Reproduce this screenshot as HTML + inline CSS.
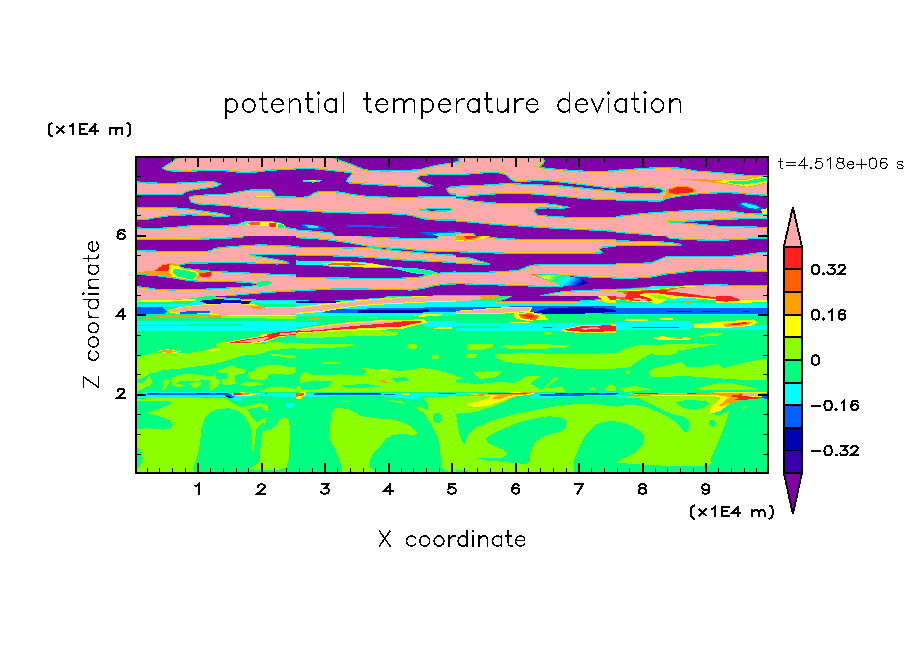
<!DOCTYPE html>
<html><head><meta charset="utf-8"><title>potential temperature deviation</title>
<style>
html,body{margin:0;padding:0;background:#fff;}
body{width:904px;height:654px;position:relative;overflow:hidden;font-family:"Liberation Sans",sans-serif;color:#000;}
svg.main{position:absolute;left:0;top:0;}
</style></head><body>
<svg class="main" width="904" height="654" viewBox="0 0 904 654">
<defs><clipPath id="pc"><rect x="136" y="157" width="632" height="316"/></clipPath></defs>
<g clip-path="url(#pc)" shape-rendering="crispEdges">
<svg x="136" y="156" width="160" height="80" viewBox="0 0 904 452" preserveAspectRatio="none"><rect x="-50" y="-50" width="1004" height="552" fill="#ffaaaa"/><polygon points="-40,-40 235,-40 235,10 200,35 150,68 165,78 200,85 300,86 440,80 520,85 600,93 680,90 760,80 944,72 944,232 790,232 775,205 760,192 650,192 600,200 520,215 400,220 330,225 300,232 310,258 340,270 420,275 520,280 600,290 700,300 800,305 944,308 944,414 850,406 835,390 800,375 700,370 640,368 600,375 570,390 400,392 300,395 200,405 100,410 -40,405 -40,362 50,360 100,350 200,336 300,332 400,336 480,342 530,340 480,325 400,315 300,300 200,292 100,290 -40,295 -40,218 200,218 262,216 285,200 330,190 400,180 455,172 478,158 440,145 330,148 200,155 60,152 -40,140" fill="#8000a8" stroke="#ffc800" stroke-width="15" paint-order="stroke" stroke-linejoin="round"/><polygon points="-40,-40 235,-40 235,10 200,35 150,68 165,78 200,85 300,86 440,80 520,85 600,93 680,90 760,80 944,72 944,232 790,232 775,205 760,192 650,192 600,200 520,215 400,220 330,225 300,232 310,258 340,270 420,275 520,280 600,290 700,300 800,305 944,308 944,414 850,406 835,390 800,375 700,370 640,368 600,375 570,390 400,392 300,395 200,405 100,410 -40,405 -40,362 50,360 100,350 200,336 300,332 400,336 480,342 530,340 480,325 400,315 300,300 200,292 100,290 -40,295 -40,218 200,218 262,216 285,200 330,190 400,180 455,172 478,158 440,145 330,148 200,155 60,152 -40,140" fill="#8000a8" stroke="#00e0e0" stroke-width="7" stroke-linejoin="round"/><polygon points="585,392 610,372 650,366 700,372 640,392" fill="#00ffff" /><polygon points="610,385 650,370 760,372 840,385 800,408 740,395 640,392" fill="#ffff00" /><polygon points="630,380 660,372 700,374 700,388 650,390" fill="#ff6000" /><polygon points="750,378 790,380 790,402 755,398" fill="#ff2020" /><polygon points="800,385 840,388 830,410 800,405" fill="#00ff80" /><polygon points="665,232 800,230 800,237 665,239" fill="#00ffff" /><polygon points="680,226 750,224 760,230 680,232" fill="#ffff00" /></svg>
<svg x="296" y="156" width="160" height="80" viewBox="0 0 904 452" preserveAspectRatio="none"><rect x="-50" y="-50" width="1004" height="552" fill="#ffaaaa"/><polygon points="210,-40 210,10 260,30 320,50 380,75 420,82 500,85 600,82 700,78 760,60 820,48 880,40 944,20 944,-40" fill="#8000a8" stroke="#ffc800" stroke-width="15" paint-order="stroke" stroke-linejoin="round"/><polygon points="210,-40 210,10 260,30 320,50 380,75 420,82 500,85 600,82 700,78 760,60 820,48 880,40 944,20 944,-40" fill="#8000a8" stroke="#00e0e0" stroke-width="7" stroke-linejoin="round"/><polygon points="-40,72 100,72 200,82 290,92 320,97 300,120 285,140 300,152 400,160 520,166 620,172 700,172 770,168 720,150 685,128 700,112 760,105 944,105 944,175 870,175 850,185 860,205 880,215 944,215 944,228 800,228 700,232 600,235 500,232 400,228 320,218 250,205 200,200 130,200 100,210 80,225 60,232 -40,235" fill="#8000a8" stroke="#ffc800" stroke-width="15" paint-order="stroke" stroke-linejoin="round"/><polygon points="-40,72 100,72 200,82 290,92 320,97 300,120 285,140 300,152 400,160 520,166 620,172 700,172 770,168 720,150 685,128 700,112 760,105 944,105 944,175 870,175 850,185 860,205 880,215 944,215 944,228 800,228 700,232 600,235 500,232 400,228 320,218 250,205 200,200 130,200 100,210 80,225 60,232 -40,235" fill="#8000a8" stroke="#00e0e0" stroke-width="7" stroke-linejoin="round"/><polygon points="-40,305 100,312 200,320 350,322 500,325 600,330 650,335 680,345 720,355 800,362 944,362 944,492 260,492 200,435 100,425 -40,415" fill="#8000a8" stroke="#ffc800" stroke-width="15" paint-order="stroke" stroke-linejoin="round"/><polygon points="-40,305 100,312 200,320 350,322 500,325 600,330 650,335 680,345 720,355 800,362 944,362 944,492 260,492 200,435 100,425 -40,415" fill="#8000a8" stroke="#00e0e0" stroke-width="7" stroke-linejoin="round"/><polygon points="700,305 760,296 860,296 880,302 860,310 760,312" fill="#8000a8" stroke="#ffc800" stroke-width="15" paint-order="stroke" stroke-linejoin="round"/><polygon points="700,305 760,296 860,296 880,302 860,310 760,312" fill="#8000a8" stroke="#00e0e0" stroke-width="7" stroke-linejoin="round"/><polygon points="20,388 60,385 140,395 170,410 120,418 40,405" fill="#0060ff" /><polygon points="50,392 90,390 130,400 120,410 70,405" fill="#00ffff" /><polygon points="280,392 400,390 580,405 500,408 380,400 300,400" fill="#0060ff" /><polygon points="40,138 100,133 160,140 100,150 40,148" fill="#00ffff" /><polygon points="70,139 100,137 130,141 100,145" fill="#ffff00" /><polygon points="700,432 904,425 904,452 760,452" fill="#0060ff" /><polygon points="760,440 904,432 904,452 800,452" fill="#00ffff" /><polygon points="820,446 904,440 904,452 840,452" fill="#00ff80" /></svg>
<svg x="456" y="156" width="160" height="80" viewBox="0 0 904 452" preserveAspectRatio="none"><rect x="-50" y="-50" width="1004" height="552" fill="#ffaaaa"/><polygon points="490,-40 490,10 500,30 480,55 470,65 520,70 600,78 700,85 800,88 944,82 944,-40" fill="#8000a8" stroke="#ffc800" stroke-width="15" paint-order="stroke" stroke-linejoin="round"/><polygon points="490,-40 490,10 500,30 480,55 470,65 520,70 600,78 700,85 800,88 944,82 944,-40" fill="#8000a8" stroke="#00e0e0" stroke-width="7" stroke-linejoin="round"/><polygon points="-40,-40 12,-40 18,30 -40,45" fill="#8000a8" stroke="#ffc800" stroke-width="15" paint-order="stroke" stroke-linejoin="round"/><polygon points="-40,-40 12,-40 18,30 -40,45" fill="#8000a8" stroke="#00e0e0" stroke-width="7" stroke-linejoin="round"/><polygon points="-40,108 100,100 180,93 240,95 280,105 310,130 340,145 400,142 460,138 520,140 600,148 700,160 800,172 860,180 944,185 944,200 860,195 800,190 700,180 600,170 500,165 400,160 340,158 300,155 200,162 100,168 -40,172" fill="#8000a8" stroke="#ffc800" stroke-width="15" paint-order="stroke" stroke-linejoin="round"/><polygon points="-40,108 100,100 180,93 240,95 280,105 310,130 340,145 400,142 460,138 520,140 600,148 700,160 800,172 860,180 944,185 944,200 860,195 800,190 700,180 600,170 500,165 400,160 340,158 300,155 200,162 100,168 -40,172" fill="#8000a8" stroke="#00e0e0" stroke-width="7" stroke-linejoin="round"/><polygon points="-40,222 30,230 100,222 200,215 300,210 400,212 500,220 600,228 700,238 800,245 944,248 944,345 800,348 700,348 600,345 520,340 460,335 440,310 450,295 520,293 600,295 640,290 600,283 560,275 500,270 400,268 300,270 200,265 100,255 30,242 -40,240" fill="#8000a8" stroke="#ffc800" stroke-width="15" paint-order="stroke" stroke-linejoin="round"/><polygon points="-40,222 30,230 100,222 200,215 300,210 400,212 500,220 600,228 700,238 800,245 944,248 944,345 800,348 700,348 600,345 520,340 460,335 440,310 450,295 520,293 600,295 640,290 600,283 560,275 500,270 400,268 300,270 200,265 100,255 30,242 -40,240" fill="#8000a8" stroke="#00e0e0" stroke-width="7" stroke-linejoin="round"/><polygon points="-40,365 100,375 200,385 300,392 400,398 500,405 600,410 700,415 800,420 944,428 944,492 150,492 100,440 -40,432" fill="#8000a8" stroke="#ffc800" stroke-width="15" paint-order="stroke" stroke-linejoin="round"/><polygon points="-40,365 100,375 200,385 300,392 400,398 500,405 600,410 700,415 800,420 944,428 944,492 150,492 100,440 -40,432" fill="#8000a8" stroke="#00e0e0" stroke-width="7" stroke-linejoin="round"/></svg>
<svg x="616" y="156" width="160" height="80" viewBox="0 0 904 452" preserveAspectRatio="none"><rect x="-50" y="-50" width="1004" height="552" fill="#ffaaaa"/><polygon points="-40,-40 944,-40 944,115 800,112 740,110 650,100 550,92 450,85 400,75 350,68 250,66 150,70 60,78 -40,82" fill="#8000a8" stroke="#ffc800" stroke-width="15" paint-order="stroke" stroke-linejoin="round"/><polygon points="-40,-40 944,-40 944,115 800,112 740,110 650,100 550,92 450,85 400,75 350,68 250,66 150,70 60,78 -40,82" fill="#8000a8" stroke="#00e0e0" stroke-width="7" stroke-linejoin="round"/><polygon points="-40,180 100,173 200,178 250,185 275,198 250,210 150,212 60,210 -40,205" fill="#8000a8" stroke="#ffc800" stroke-width="15" paint-order="stroke" stroke-linejoin="round"/><polygon points="-40,180 100,173 200,178 250,185 275,198 250,210 150,212 60,210 -40,205" fill="#8000a8" stroke="#00e0e0" stroke-width="7" stroke-linejoin="round"/><polygon points="-40,250 100,252 250,255 290,240 350,228 450,215 520,210 620,207 700,210 760,218 944,225 944,330 800,328 740,325 650,312 550,305 450,305 350,312 250,318 150,325 80,335 -40,345" fill="#8000a8" stroke="#ffc800" stroke-width="15" paint-order="stroke" stroke-linejoin="round"/><polygon points="-40,250 100,252 250,255 290,240 350,228 450,215 520,210 620,207 700,210 760,218 944,225 944,330 800,328 740,325 650,312 550,305 450,305 350,312 250,318 150,325 80,335 -40,345" fill="#8000a8" stroke="#00e0e0" stroke-width="7" stroke-linejoin="round"/><polygon points="290,371 400,368 500,365 560,360 700,355 944,355 944,405 800,402 700,400 600,400 500,388 400,380" fill="#8000a8" stroke="#ffc800" stroke-width="15" paint-order="stroke" stroke-linejoin="round"/><polygon points="290,371 400,368 500,365 560,360 700,355 944,355 944,405 800,402 700,400 600,400 500,388 400,380" fill="#8000a8" stroke="#00e0e0" stroke-width="7" stroke-linejoin="round"/><polygon points="-40,428 100,438 200,445 260,492 -40,492" fill="#8000a8" stroke="#ffc800" stroke-width="15" paint-order="stroke" stroke-linejoin="round"/><polygon points="-40,428 100,438 200,445 260,492 -40,492" fill="#8000a8" stroke="#00e0e0" stroke-width="7" stroke-linejoin="round"/><polygon points="820,492 840,445 944,445 944,492" fill="#8000a8" stroke="#ffc800" stroke-width="15" paint-order="stroke" stroke-linejoin="round"/><polygon points="820,492 840,445 944,445 944,492" fill="#8000a8" stroke="#00e0e0" stroke-width="7" stroke-linejoin="round"/><polygon points="335,130 450,130 600,136 740,130 770,118 860,118 860,150 790,168 740,178 650,162 560,152 450,140" fill="#ffa000" /><polygon points="540,140 740,135 775,122 860,120 860,148 790,164 740,174 650,158" fill="#ffff00" /><polygon points="600,145 740,142 790,128 860,125 860,140 780,152 720,162 650,154" fill="#00ff80" /><polygon points="280,190 340,172 400,168 445,188 460,202 400,216 330,220 285,235 260,245 285,212" fill="#ffa000" /><polygon points="300,190 340,178 400,174 435,190 440,200 400,210 330,213 300,208" fill="#ff2020" /><polygon points="688,270 720,258 780,270 835,295 805,310 740,300 700,286" fill="#0060ff" /><polygon points="705,270 725,265 780,278 810,292 790,298 740,290" fill="#00ffff" /><polygon points="820,300 860,295 860,330 825,325" fill="#ffff00" /></svg>
<svg x="136" y="236" width="160" height="80" viewBox="0 0 904 452" preserveAspectRatio="none"><rect x="-50" y="-50" width="1004" height="552" fill="#ffaaaa"/><polygon points="-40,18 300,20 450,15 600,8 650,-40 944,-40 944,60 800,54 700,50 600,56 520,62 480,65 440,72 420,85 350,88 200,88 100,85 -40,82" fill="#8000a8" stroke="#ffc800" stroke-width="15" paint-order="stroke" stroke-linejoin="round"/><polygon points="-40,18 300,20 450,15 600,8 650,-40 944,-40 944,60 800,54 700,50 600,56 520,62 480,65 440,72 420,85 350,88 200,88 100,85 -40,82" fill="#8000a8" stroke="#00e0e0" stroke-width="7" stroke-linejoin="round"/><polygon points="640,105 750,103 944,103 944,222 800,218 700,212 600,208 430,200 330,190 260,180 240,165 300,153 400,152 560,150 700,154 800,158 862,152 830,140 750,126 680,114" fill="#8000a8" stroke="#ffc800" stroke-width="15" paint-order="stroke" stroke-linejoin="round"/><polygon points="640,105 750,103 944,103 944,222 800,218 700,212 600,208 430,200 330,190 260,180 240,165 300,153 400,152 560,150 700,154 800,158 862,152 830,140 750,126 680,114" fill="#8000a8" stroke="#00e0e0" stroke-width="7" stroke-linejoin="round"/><polygon points="-40,215 100,222 200,235 300,252 400,258 500,258 600,260 680,268 700,272 650,285 550,292 450,298 350,302 200,305 120,302 60,292 -40,282" fill="#8000a8" stroke="#ffc800" stroke-width="15" paint-order="stroke" stroke-linejoin="round"/><polygon points="-40,215 100,222 200,235 300,252 400,258 500,258 600,260 680,268 700,272 650,285 550,292 450,298 350,302 200,305 120,302 60,292 -40,282" fill="#8000a8" stroke="#00e0e0" stroke-width="7" stroke-linejoin="round"/><polygon points="944,308 800,315 700,322 600,330 500,340 400,350 330,358 280,368 400,372 500,378 600,380 750,378 944,375" fill="#8000a8" stroke="#ffc800" stroke-width="15" paint-order="stroke" stroke-linejoin="round"/><polygon points="944,308 800,315 700,322 600,330 500,340 400,350 330,358 280,368 400,372 500,378 600,380 750,378 944,375" fill="#8000a8" stroke="#00e0e0" stroke-width="7" stroke-linejoin="round"/><polygon points="100,195 150,160 200,150 240,165 260,182 330,192 430,202 420,235 350,240 300,250 200,232 100,220 0,212 0,205" fill="#ffa000" /><polygon points="110,195 150,165 185,160 200,185 170,200" fill="#ff2020" /><polygon points="190,165 240,170 262,186 330,196 360,210 340,240 300,248 205,230 185,200" fill="#ffff00" /><polygon points="215,185 250,190 330,205 345,225 330,240 300,244 230,228 205,205" fill="#00ff80" /><polygon points="350,208 425,205 425,228 370,232" fill="#ff2020" /><polygon points="690,258 750,255 775,265 740,280 690,288" fill="#00ff80" /></svg>
<svg x="296" y="236" width="160" height="80" viewBox="0 0 904 452" preserveAspectRatio="none"><rect x="-50" y="-50" width="1004" height="552" fill="#ffaaaa"/><polygon points="-40,8 100,14 200,24 300,38 400,56 440,64 300,68 200,66 100,64 -40,62" fill="#8000a8" stroke="#ffc800" stroke-width="15" paint-order="stroke" stroke-linejoin="round"/><polygon points="-40,8 100,14 200,24 300,38 400,56 440,64 300,68 200,66 100,64 -40,62" fill="#8000a8" stroke="#00e0e0" stroke-width="7" stroke-linejoin="round"/><polygon points="300,-40 820,-40 800,12 700,15 500,10 380,4" fill="#8000a8" stroke="#ffc800" stroke-width="15" paint-order="stroke" stroke-linejoin="round"/><polygon points="300,-40 820,-40 800,12 700,15 500,10 380,4" fill="#8000a8" stroke="#00e0e0" stroke-width="7" stroke-linejoin="round"/><polygon points="430,62 600,73 750,86 830,88 944,88 944,110 830,106 750,99 600,86 440,69" fill="#8000a8" stroke="#ffc800" stroke-width="15" paint-order="stroke" stroke-linejoin="round"/><polygon points="430,62 600,73 750,86 830,88 944,88 944,110 830,106 750,99 600,86 440,69" fill="#8000a8" stroke="#00e0e0" stroke-width="7" stroke-linejoin="round"/><polygon points="-40,108 200,112 400,120 600,135 800,145 944,152 944,200 830,208 760,215 700,232 600,238 500,240 300,238 100,236 -40,232" fill="#8000a8" stroke="#ffc800" stroke-width="15" paint-order="stroke" stroke-linejoin="round"/><polygon points="-40,108 200,112 400,120 600,135 800,145 944,152 944,200 830,208 760,215 700,232 600,238 500,240 300,238 100,236 -40,232" fill="#8000a8" stroke="#00e0e0" stroke-width="7" stroke-linejoin="round"/><polygon points="-40,310 100,305 200,300 400,300 550,302 650,305 720,295 780,280 850,272 944,270 944,335 800,338 700,345 600,352 500,358 400,362 300,368 250,375 150,378 -40,375" fill="#8000a8" stroke="#ffc800" stroke-width="15" paint-order="stroke" stroke-linejoin="round"/><polygon points="-40,310 100,305 200,300 400,300 550,302 650,305 720,295 780,280 850,272 944,270 944,335 800,338 700,345 600,352 500,358 400,362 300,368 250,375 150,378 -40,375" fill="#8000a8" stroke="#00e0e0" stroke-width="7" stroke-linejoin="round"/><polygon points="0,138 60,140 130,143 250,140 400,150 540,172 600,178 650,178 750,192 810,210 740,220 650,208 590,192 540,182 450,180 300,176 200,174 120,162 60,165 0,165" fill="#00ffff" /><polygon points="140,155 250,145 350,150 450,160 530,174 450,176 300,172 200,170" fill="#ffff00" /><polygon points="170,158 250,150 340,154 400,162 300,167 200,166" fill="#ff6000" /><polygon points="600,186 650,183 750,197 795,210 740,214 650,203" fill="#00ff80" /></svg>
<svg x="456" y="236" width="160" height="80" viewBox="0 0 904 452" preserveAspectRatio="none"><rect x="-50" y="-50" width="1004" height="552" fill="#ffaaaa"/><polygon points="150,-40 944,-40 944,22 800,20 600,22 400,20 250,15 180,5" fill="#8000a8" stroke="#ffc800" stroke-width="15" paint-order="stroke" stroke-linejoin="round"/><polygon points="150,-40 944,-40 944,22 800,20 600,22 400,20 250,15 180,5" fill="#8000a8" stroke="#00e0e0" stroke-width="7" stroke-linejoin="round"/><polygon points="-40,88 200,95 400,100 600,100 750,98 830,95 810,75 830,62 944,60 944,160 700,162 500,162 430,165 400,175 350,195 280,200 100,208 -40,205 -40,152 100,158 190,158 130,140 80,125 -40,118" fill="#8000a8" stroke="#ffc800" stroke-width="15" paint-order="stroke" stroke-linejoin="round"/><polygon points="-40,88 200,95 400,100 600,100 750,98 830,95 810,75 830,62 944,60 944,160 700,162 500,162 430,165 400,175 350,195 280,200 100,208 -40,205 -40,152 100,158 190,158 130,140 80,125 -40,118" fill="#8000a8" stroke="#00e0e0" stroke-width="7" stroke-linejoin="round"/><polygon points="-40,268 100,272 200,275 350,280 500,285 600,283 560,260 480,235 430,218 620,222 800,235 944,238 944,300 800,305 700,308 600,315 540,325 480,338 600,340 700,345 780,350 830,362 800,370 700,372 500,370 300,368 230,365 300,345 250,340 100,335 -40,335" fill="#8000a8" stroke="#ffc800" stroke-width="15" paint-order="stroke" stroke-linejoin="round"/><polygon points="-40,268 100,272 200,275 350,280 500,285 600,283 560,260 480,235 430,218 620,222 800,235 944,238 944,300 800,305 700,308 600,315 540,325 480,338 600,340 700,345 780,350 830,362 800,370 700,372 500,370 300,368 230,365 300,345 250,340 100,335 -40,335" fill="#8000a8" stroke="#00e0e0" stroke-width="7" stroke-linejoin="round"/><polygon points="0,0 190,0 150,18 60,30 0,28" fill="#ffff00" /><polygon points="0,0 150,0 120,18 60,26 0,24" fill="#ffa000" /><polygon points="40,0 130,0 110,12 60,16" fill="#ff2020" /><defs><linearGradient id="g23" x1="0" x2="1" y1="0" y2="0.25"><stop offset="0" stop-color="#ff6000"/><stop offset="0.3" stop-color="#ffff00"/><stop offset="0.5" stop-color="#00ff80"/><stop offset="0.7" stop-color="#00ffff"/><stop offset="0.88" stop-color="#0060ff"/><stop offset="1" stop-color="#0000b0"/></linearGradient></defs><polygon points="425,216 620,224 700,240 752,265 700,280 600,285 560,262 480,235" fill="url(#g23)"/></svg>
<svg x="616" y="236" width="160" height="80" viewBox="0 0 904 452" preserveAspectRatio="none"><rect x="-50" y="-50" width="1004" height="552" fill="#ffaaaa"/><polygon points="-40,-40 240,-40 300,12 400,20 550,25 700,20 800,12 944,10 944,88 800,95 720,108 620,118 500,115 380,115 280,118 240,135 200,152 100,155 -40,158 -40,55 100,52 300,55 370,50 320,38 200,30 -40,28" fill="#8000a8" stroke="#ffc800" stroke-width="15" paint-order="stroke" stroke-linejoin="round"/><polygon points="-40,-40 240,-40 300,12 400,20 550,25 700,20 800,12 944,10 944,88 800,95 720,108 620,118 500,115 380,115 280,118 240,135 200,152 100,155 -40,158 -40,55 100,52 300,55 370,50 320,38 200,30 -40,28" fill="#8000a8" stroke="#00e0e0" stroke-width="7" stroke-linejoin="round"/><polygon points="-40,240 100,238 200,232 280,215 350,208 450,195 550,192 650,192 750,198 944,205 944,278 750,280 650,278 550,275 450,280 350,285 250,298 150,305 -40,310" fill="#8000a8" stroke="#ffc800" stroke-width="15" paint-order="stroke" stroke-linejoin="round"/><polygon points="-40,240 100,238 200,232 280,215 350,208 450,195 550,192 650,192 750,198 944,205 944,278 750,280 650,278 550,275 450,280 350,285 250,298 150,305 -40,310" fill="#8000a8" stroke="#00e0e0" stroke-width="7" stroke-linejoin="round"/></svg>
<svg x="136" y="316" width="160" height="80" viewBox="0 0 904 452" preserveAspectRatio="none"><rect x="-50" y="-50" width="1004" height="552" fill="#00ff80"/><polygon points="0,237 31,224 67,219 104,206 119,211 207,211 270,211 311,206 389,196 415,185 452,180 452,162 478,149 504,141 525,152 607,157 727,157 753,147 789,149 904,152 904,180 753,196 721,209 685,217 607,224 556,237 519,250 478,263 452,268 389,279 311,289 249,297 197,302 145,307 114,320 78,325 52,341 21,356 0,362" fill="#8cff00" /><polygon points="753,217 815,217 904,224 904,237 856,237 815,230 763,222" fill="#8cff00" /><polygon points="504,294 530,279 556,284 571,294 597,297 623,310 613,325 566,331 556,357 571,382 504,393 483,382 483,357 514,357 514,320 473,320 452,310" fill="#8cff00" /><polygon points="675,294 711,284 763,274 815,279 867,289 904,289 904,318 867,331 841,331 763,325 747,336 742,357 701,362 649,357 628,341 633,315 675,312" fill="#8cff00" /><polygon points="582,385 633,372 701,375 716,388 659,395 607,393" fill="#8cff00" /><polygon points="701,419 763,403 815,398 904,414 904,428 701,428" fill="#8cff00" /><polygon points="452,320 452,357 478,362 462,398 452,403 415,428 415,367" fill="#8cff00" /><polygon points="207,346 249,331 311,328 389,336 452,341 452,357 389,362 337,367 249,367 233,382 280,393 228,403 207,393 197,357" fill="#8cff00" /><polygon points="295,382 337,372 373,372 363,393 342,408 321,403" fill="#8cff00" /><polygon points="155,367 176,357 192,362 181,393 166,414 145,419 155,393" fill="#8cff00" /><polygon points="0,372 31,382 52,362 78,331 83,357 98,377 78,393 52,403 31,419 0,424" fill="#8cff00" /><polygon points="500,152 560,137 700,114 800,94 904,80 904,106 800,122 740,146 650,158 560,158" fill="#ffff00" /><polygon points="530,150 600,136 720,116 820,98 904,87 904,100 800,116 740,138 650,150" fill="#ff2020" /><polygon points="580,146 650,133 730,120 760,122 720,140 640,150" fill="#ffaaaa" /><polygon points="105,198 180,188 270,203 180,212" fill="#ffff00" /><polygon points="120,198 180,191 240,203 180,208" fill="#ffa000" /><polygon points="390,195 440,182 470,190 420,200" fill="#ffff00" /></svg>
<svg x="296" y="316" width="160" height="80" viewBox="0 0 904 452" preserveAspectRatio="none"><rect x="-50" y="-50" width="1004" height="552" fill="#00ff80"/><polygon points="0,95 200,85 300,82 450,85 580,95 400,110 200,120 100,125 0,125" fill="#8cff00" /><polygon points="0,155 330,158 330,168 200,180 60,185 0,185" fill="#8cff00" /><polygon points="150,262 250,262 250,272 150,272" fill="#8cff00" /><polygon points="20,335 50,315 100,335 250,330 380,335 400,305 350,290 500,305 600,310 700,295 780,300 850,320 904,335 904,430 0,430 0,400 20,395" fill="#8cff00" /><polygon points="540,350 620,345 640,365 560,372" fill="#00ff80" /><polygon points="20,380 100,365 200,370 180,400 100,420 30,415" fill="#00ff80" /><polygon points="250,390 400,385 480,400 300,410" fill="#00ff80" /><ellipse cx="655" cy="172" rx="28" ry="14" fill="#8cff00"/><ellipse cx="785" cy="232" rx="22" ry="12" fill="#8cff00"/><polygon points="470,365 500,360 520,378 480,375" fill="#ffa000" /><polygon points="470,300 520,298 520,310 470,310" fill="#ffff00" /></svg>
<svg x="456" y="316" width="160" height="80" viewBox="0 0 904 452" preserveAspectRatio="none"><rect x="-50" y="-50" width="1004" height="552" fill="#00ff80"/><polygon points="60,160 210,160 210,175 150,190 60,190" fill="#8cff00" /><polygon points="250,168 400,160 650,162 620,180 400,188 300,186" fill="#8cff00" /><polygon points="60,215 120,215 110,240 55,240" fill="#8cff00" /><polygon points="220,215 400,210 650,215 904,210 904,300 700,300 550,285 400,270 280,260 220,235" fill="#8cff00" /><polygon points="90,315 260,312 220,350 130,355" fill="#8cff00" /><polygon points="0,340 40,350 0,362" fill="#8cff00" /><polygon points="0,375 120,385 250,372 330,380 400,340 480,338 420,380 480,420 560,345 580,350 500,410 600,400 620,430 0,430" fill="#8cff00" /><polygon points="750,415 775,400 790,425" fill="#8cff00" /><polygon points="840,410 870,385 904,400 904,425 840,425" fill="#8cff00" /><ellipse cx="518" cy="98" rx="20" ry="8" fill="#8cff00"/></svg>
<svg x="616" y="316" width="160" height="80" viewBox="0 0 904 452" preserveAspectRatio="none"><rect x="-50" y="-50" width="1004" height="552" fill="#00ff80"/><polygon points="450,105 520,95 600,95 570,110 480,118" fill="#8cff00" /><polygon points="0,210 50,185 130,165 300,160 450,155 570,160 450,180 350,195 340,215 260,222 190,215 150,240 100,270 80,290 0,295" fill="#8cff00" /><polygon points="200,300 300,275 370,260 400,290 500,285 580,270 600,295 700,270 820,245 904,245 904,365 700,360 550,350 400,340 200,345 180,320" fill="#8cff00" /><polygon points="50,312 80,312 80,325 50,325" fill="#8cff00" /><polygon points="20,410 100,395 200,415 50,430" fill="#8cff00" /><polygon points="450,410 550,385 620,375 800,410 760,420 500,420" fill="#8cff00" /><polygon points="200,125 250,115 400,120 425,128 400,138 250,138" fill="#ffff00" /><polygon points="330,122 380,120 380,130 330,130" fill="#ffa000" /></svg>
<svg x="136" y="396" width="160" height="80" viewBox="0 0 904 452" preserveAspectRatio="none"><rect x="-50" y="-50" width="1004" height="552" fill="#00ff80"/><polygon points="0,15 200,12 500,10 560,50 600,68 620,60 640,100 680,150 730,125 740,122 720,180 712,200 760,190 790,170 810,130 840,118 865,140 870,200 865,350 850,400 820,415 700,420 640,412 620,452 0,452" fill="#8cff00" /><polygon points="0,30 190,30 205,42 120,75 65,95 120,110 185,135 208,160 195,185 150,190 60,182 0,190" fill="#00ff80" /><polygon points="0,280 20,300 40,350 20,400 0,420" fill="#00ff80" /><polygon points="345,350 360,280 370,180 390,120 420,90 470,72 520,70 580,85 610,110 640,160 655,200 655,310 665,310 680,190 700,170 725,140 715,190 705,260 700,350 690,380 640,410 620,452 350,452 320,410" fill="#00ff80" /><polygon points="600,65 700,40 740,50 750,80 740,90 700,62 640,72" fill="#8cff00" /><polygon points="0,0 500,0 500,8 0,10" fill="#00ffff" /><polygon points="505,0 550,0 550,12 520,10" fill="#0000b0" /><polygon points="530,10 600,12 600,28 550,25" fill="#00ffff" /><ellipse cx="868" cy="52" rx="24" ry="14" fill="#00ffff"/><polygon points="810,0 904,0 904,6 810,6" fill="#00ffff" /></svg>
<svg x="296" y="396" width="160" height="80" viewBox="0 0 904 452" preserveAspectRatio="none"><rect x="-50" y="-50" width="1004" height="552" fill="#00ff80"/><polygon points="240,65 300,75 370,115 450,125 560,135 620,155 660,180 685,210 670,222 600,215 540,222 510,240 480,280 440,320 420,360 415,400 440,420 450,452 245,452 260,400 240,350 215,290 185,240 190,190 200,100 215,72" fill="#8cff00" /><polygon points="720,10 904,0 904,452 820,405 815,300 800,230 770,170 740,120 720,95 680,75 670,60 700,62 750,80 740,40" fill="#8cff00" /><ellipse cx="798" cy="125" rx="24" ry="30" fill="#00ff80"/><polygon points="520,0 700,0 690,20 640,18 540,8" fill="#00ffff" /><polygon points="0,0 180,0 180,6 0,8" fill="#00ffff" /><polygon points="0,0 40,0 30,14 0,16" fill="#ffff00" /><polygon points="260,28 300,28 300,34 260,34" fill="#8cff00" /><polygon points="520,22 600,30 610,45 560,35" fill="#8cff00" /></svg>
<svg x="456" y="396" width="160" height="80" viewBox="0 0 904 452" preserveAspectRatio="none"><rect x="-50" y="-50" width="1004" height="552" fill="#8cff00"/><polygon points="0,100 100,92 200,62 280,30 340,0 904,0 904,60 800,48 680,45 560,58 450,80 340,100 200,140 110,180 70,215 45,280 20,220 5,130" fill="#00ff80" /><polygon points="170,240 200,215 280,180 350,150 450,125 520,115 590,118 625,140 620,180 590,200 540,215 480,235 440,270 420,320 415,370 400,385 300,375 180,365 90,348 150,352 260,350 290,330 270,305 220,285 180,265" fill="#00ff80" /><polygon points="670,452 668,360 700,280 740,210 790,160 840,145 904,140 904,452" fill="#00ff80" /><polygon points="0,415 60,420 60,452 0,452" fill="#00ff80" /><polygon points="70,45 150,25 230,0 340,0 250,30 180,55 90,65" fill="#ffff00" /><polygon points="230,0 345,0 300,15 235,20" fill="#ffa000" /><polygon points="420,0 600,0 600,8 420,10" fill="#00ffff" /><polygon points="470,0 510,0 510,7 470,7" fill="#0060ff" /></svg>
<svg x="616" y="396" width="160" height="80" viewBox="0 0 904 452" preserveAspectRatio="none"><rect x="-50" y="-50" width="1004" height="552" fill="#00ff80"/><polygon points="0,0 590,0 560,60 530,95 580,110 640,85 620,150 590,230 550,320 535,360 540,385 500,395 300,395 100,385 0,375" fill="#8cff00" /><polygon points="0,145 30,148 90,170 140,200 160,235 150,275 110,320 40,355 0,375" fill="#00ff80" /><polygon points="0,12 120,10 200,45 260,80 330,105 390,120 415,150 410,190 392,207 330,140 250,95 150,55 60,50 0,62" fill="#00ff80" /><polygon points="340,35 400,22 500,28 530,40 500,62 450,78 390,70 350,50" fill="#00ff80" /><ellipse cx="545" cy="155" rx="18" ry="20" fill="#00ff80"/><polygon points="715,70 735,50 740,62 722,80" fill="#8cff00" /><polygon points="0,0 70,0 70,12 0,14" fill="#00ffff" /><polygon points="520,100 540,60 590,10 640,0 700,0 640,45 580,90" fill="#ffff00" /><polygon points="590,50 620,15 680,0 760,0 700,25 640,45" fill="#ffa000" /><polygon points="650,15 680,0 830,0 820,12 700,25" fill="#ff2020" /><polygon points="700,0 800,0 800,8 700,8" fill="#ffaaaa" /><polygon points="820,0 860,0 860,18 835,15" fill="#0060ff" /></svg>
<svg x="136" y="296" width="160" height="40" viewBox="0 0 904 226" preserveAspectRatio="none"><rect x="-50" y="-50" width="1004" height="326" fill="#00ff80"/><polygon points="0,25 904,25 904,60 0,62" fill="#00ffff" /><polygon points="0,0 400,0 330,12 220,20 100,25 0,25" fill="#ffaaaa" /><polygon points="400,-40 944,-40 944,25 780,28 650,22 550,15 450,8" fill="#8000a8" stroke="#ffc800" stroke-width="15" paint-order="stroke" stroke-linejoin="round"/><polygon points="400,-40 944,-40 944,25 780,28 650,22 550,15 450,8" fill="#8000a8" stroke="#00e0e0" stroke-width="7" stroke-linejoin="round"/><polygon points="350,28 450,18 550,22 650,30 640,44 400,44" fill="#0000b0" /><polygon points="0,30 330,28 300,45 0,48" fill="#00ff80" /><polygon points="0,26 340,18 330,28 0,36" fill="#ffff00" /><polygon points="0,62 150,62 175,85 160,100 0,100" fill="#0060ff" /><polygon points="660,40 904,35 904,70 700,62" fill="#00ff80" /><polygon points="700,30 904,28 904,45 700,48" fill="#00ffff" /><polygon points="175,80 260,60 400,45 560,40 670,48 710,60 770,64 904,64 904,114 800,112 650,114 500,114 430,106 300,96 250,102 195,96" fill="#ffff00" /><polygon points="185,82 260,65 400,50 560,45 660,52 700,62 760,68 904,70 904,108 800,105 650,108 500,108 430,100 420,85 300,88 250,95 200,90" fill="#ffaaaa" /><polygon points="250,88 420,86 420,98 250,100" fill="#0060ff" /><polygon points="640,55 720,58 740,70 660,72" fill="#ffa000" /><polygon points="50,120 200,108 500,108 480,120 200,125 50,128" fill="#ffa000" /><polygon points="480,110 904,112 904,128 480,126" fill="#8cff00" /><polygon points="0,140 904,140 904,195 0,195" fill="#00ffff" /><polygon points="0,162 600,160 600,170 0,170" fill="#00ff80" /><polygon points="740,218 800,206 904,198 904,220 800,226 740,226" fill="#ff2020" /><polygon points="800,213 904,204 904,214 820,222" fill="#ffaaaa" /><polygon points="700,220 780,205 800,202 740,215 740,226 700,226" fill="#ffff00" /><polygon points="0,218 904,218 904,226 0,226" fill="#8cff00" opacity="0"/></svg>
<svg x="296" y="296" width="160" height="40" viewBox="0 0 904 226" preserveAspectRatio="none"><rect x="-50" y="-50" width="1004" height="326" fill="#00ff80"/><polygon points="-40,-40 600,-40 500,12 300,25 200,30 -40,28" fill="#8000a8" stroke="#ffc800" stroke-width="15" paint-order="stroke" stroke-linejoin="round"/><polygon points="-40,-40 600,-40 500,12 300,25 200,30 -40,28" fill="#8000a8" stroke="#00e0e0" stroke-width="7" stroke-linejoin="round"/><polygon points="0,28 250,28 250,42 0,42" fill="#0000b0" /><polygon points="0,42 250,42 250,65 904,45 904,65 0,110" fill="#00ffff" /><polygon points="250,45 904,28 904,65 250,65" fill="#00ffff" /><polygon points="150,75 904,62 904,88 150,100" fill="#0060ff" /><polygon points="350,80 750,76 750,96 350,100" fill="#0000b0" /><polygon points="0,98 904,92 904,110 0,116" fill="#00ffff" /><polygon points="0,62 100,50 250,34 350,24 500,12 700,0 904,0 904,32 800,34 650,40 500,48 350,58 250,72 150,90 0,102" fill="#ffff00" /><polygon points="0,70 100,58 250,42 350,30 500,18 700,5 800,0 904,0 904,25 800,28 650,35 500,42 350,52 250,65 150,82 0,95" fill="#ffaaaa" /><polygon points="80,125 130,125 130,133 80,133" fill="#ffa000" /><polygon points="400,118 460,118 460,126 400,126" fill="#ffff00" /><polygon points="650,108 800,100 840,108 700,118" fill="#ffff00" /><polygon points="700,145 904,140 904,175 720,172" fill="#00ffff" /><polygon points="0,150 120,146 130,160 60,172 0,176" fill="#00ffff" /><polygon points="0,188 100,172 250,152 400,140 520,135 720,132 740,150 660,170 600,186 450,192 300,196 150,206 0,216" fill="#ffff00" /><polygon points="0,197 100,182 250,162 400,150 520,144 700,140 715,148 650,160 600,172 450,178 300,186 150,197 0,207" fill="#ff2020" /><polygon points="20,190 100,180 250,160 400,148 520,142 620,142 500,155 300,172 150,190 20,200" fill="#ffaaaa" /><polygon points="0,210 150,204 300,196 450,192 580,205 560,226 0,226" fill="#8cff00" /><polygon points="780,180 880,172 880,184 780,188" fill="#ffff00" /></svg>
<svg x="456" y="296" width="160" height="40" viewBox="0 0 904 226" preserveAspectRatio="none"><rect x="-50" y="-50" width="1004" height="326" fill="#00ff80"/><polygon points="0,28 904,28 904,62 0,62" fill="#00ffff" /><polygon points="0,60 904,58 904,100 0,88" fill="#0060ff" /><polygon points="0,0 180,0 170,15 100,25 0,28" fill="#ffaaaa" /><polygon points="130,0 260,0 200,18 150,20" fill="#ffa000" /><polygon points="220,30 280,12 400,0 780,0 840,20 750,34 550,38 350,36" fill="#0000b0" /><polygon points="300,8 400,-40 780,-40 830,18 750,28 550,32 350,30 230,30 280,15" fill="#8000a8" stroke="#ffc800" stroke-width="15" paint-order="stroke" stroke-linejoin="round"/><polygon points="300,8 400,-40 780,-40 830,18 750,28 550,32 350,30 230,30 280,15" fill="#8000a8" stroke="#00e0e0" stroke-width="7" stroke-linejoin="round"/><polygon points="800,0 904,0 904,40 850,40" fill="#ffff00" /><polygon points="850,0 904,0 904,25 870,22" fill="#ff2020" /><polygon points="0,84 150,72 300,62 430,64 420,88 300,98 150,104 50,104 0,100" fill="#ffff00" /><polygon points="0,88 150,78 300,68 420,70 400,85 300,92 150,98 50,98 0,96" fill="#ffaaaa" /><polygon points="430,95 520,70 700,62 800,66 904,78 904,88 800,96 700,100 500,100" fill="#0000b0" /><polygon points="0,100 904,102 904,150 0,150" fill="#00ff80" /><polygon points="320,100 420,88 500,110 520,135 400,140 340,130" fill="#ffff00" /><polygon points="350,105 420,96 470,115 450,135 380,130" fill="#ff6000" /><polygon points="380,110 420,104 445,118 410,126" fill="#ff2020" /><polygon points="50,160 200,160 200,166 50,166" fill="#ffff00" /><polygon points="300,145 420,145 420,152 300,152" fill="#ffff00" /><polygon points="0,150 904,150 904,195 0,195" fill="#00ffff" /><polygon points="0,172 250,172 250,178 0,178" fill="#00ff80" /><polygon points="590,190 700,166 904,160 904,206 800,210 620,205" fill="#ffff00" /><polygon points="610,190 700,172 860,165 904,170 904,198 800,202 650,200" fill="#ff2020" /><polygon points="700,180 800,176 820,186 720,190" fill="#ffaaaa" /><ellipse cx="518" cy="210" rx="20" ry="8" fill="#8cff00"/><polygon points="490,176 540,176 540,180 490,180" fill="#0060ff" /></svg>
<svg x="616" y="296" width="160" height="40" viewBox="0 0 904 226" preserveAspectRatio="none"><rect x="-50" y="-50" width="1004" height="326" fill="#00ff80"/><polygon points="0,0 904,0 904,30 700,40 400,48 200,45 0,35" fill="#ffff00" /><polygon points="0,0 250,0 230,25 120,30 0,28" fill="#ff2020" /><polygon points="100,10 180,8 190,22 110,25" fill="#ffaaaa" /><polygon points="220,15 400,12 400,45 240,42" fill="#8cff00" /><polygon points="400,10 550,8 560,30 420,32" fill="#00ffff" /><polygon points="540,0 720,0 700,25 620,32 560,25" fill="#ff2020" /><polygon points="650,0 904,0 904,25 700,22" fill="#ffaaaa" /><polygon points="380,30 440,30 440,42 380,42" fill="#ffa000" /><polygon points="0,45 904,40 904,66 0,66" fill="#00ffff" /><polygon points="0,35 300,45 0,50" fill="#00ff80" /><polygon points="0,65 904,65 904,100 0,100" fill="#0060ff" /><polygon points="290,85 430,85 430,91 290,91" fill="#0000b0" /><polygon points="490,85 585,85 585,91 490,91" fill="#0000b0" /><polygon points="720,85 750,85 750,90 720,90" fill="#0000b0" /><polygon points="0,100 904,100 904,110 0,110" fill="#00ffff" /><polygon points="50,132 180,130 180,140 50,142" fill="#ffff00" /><polygon points="250,125 320,125 320,135 250,135" fill="#ffff00" /><polygon points="0,145 420,140 420,190 0,190" fill="#00ffff" /><polygon points="90,176 355,176 355,181 90,181" fill="#0060ff" /><polygon points="420,150 904,165 904,195 600,192 420,180" fill="#00ffff" /><polygon points="440,160 580,145 780,132 800,150 760,170 600,182 440,182" fill="#ffff00" /><polygon points="600,158 740,145 770,150 740,165 620,175" fill="#ffa000" /><polygon points="640,158 730,148 740,156 660,166" fill="#ff2020" /><polygon points="480,226 540,205 600,210 580,226" fill="#8cff00" /></svg>
<svg x="136" y="386" width="160" height="20" viewBox="0 0 904 113" preserveAspectRatio="none"><polygon points="40,36 520,36 560,50 700,40 904,40 904,55 700,56 560,72 510,58 40,58" fill="#00ffff" /><polygon points="60,40 520,40 560,62 540,70 500,50 60,50" fill="#0060ff" /><polygon points="80,41 130,41 130,48 80,48" fill="#0000b0" /><polygon points="340,42 420,42 420,48 340,48" fill="#0000b0" /><polygon points="450,40 520,40 520,48 450,48" fill="#0000b0" /><polygon points="510,48 550,68 530,70 500,52" fill="#0000b0" /><polygon points="540,40 600,36 700,42 650,55 560,54" fill="#ffff00" /><polygon points="545,40 600,38 660,44 620,52 560,52" fill="#ffa000" /><polygon points="550,41 590,40 595,49 555,50" fill="#ff2020" /><polygon points="728,42 742,42 742,48 728,48" fill="#0060ff" /></svg>
<svg x="296" y="386" width="160" height="20" viewBox="0 0 904 113" preserveAspectRatio="none"><polygon points="50,40 904,38 904,55 700,58 650,80 640,58 50,58" fill="#00ffff" /><polygon points="0,38 60,34 50,58 0,64" fill="#ffff00" /><polygon points="0,42 50,38 40,55 0,60" fill="#ff6000" /><polygon points="100,40 480,40 480,50 100,50" fill="#0060ff" /><polygon points="130,41 470,41 470,48 130,48" fill="#0000b0" /><polygon points="500,44 560,44 560,50 500,50" fill="#0060ff" /><polygon points="600,40 640,40 640,50 600,50" fill="#ffff00" /><polygon points="800,40 904,40 904,48 800,48" fill="#0060ff" /></svg>
<svg x="456" y="386" width="160" height="20" viewBox="0 0 904 113" preserveAspectRatio="none"><polygon points="0,38 60,42 50,52 0,50" fill="#00ffff" /><polygon points="60,42 440,34 440,46 330,60 250,80 180,100 70,113 60,105 180,70 200,55 100,52" fill="#ffff00" /><polygon points="110,40 430,36 420,46 300,55 240,75 200,70 240,50 120,48" fill="#ffa000" /><polygon points="180,40 400,37 400,43 180,46" fill="#ff2020" /><polygon points="425,34 445,34 445,42 425,42" fill="#ffaaaa" /><polygon points="420,50 470,40 904,36 904,56 470,62" fill="#00ffff" /><polygon points="460,44 904,38 904,52 480,56" fill="#0060ff" /><polygon points="560,41 630,41 630,48 560,48" fill="#0000b0" /><polygon points="660,40 810,40 810,47 660,47" fill="#0000b0" /><polygon points="850,38 904,38 904,46 850,46" fill="#0000b0" /></svg>
<svg x="616" y="386" width="160" height="20" viewBox="0 0 904 113" preserveAspectRatio="none"><polygon points="0,50 70,52 70,70 0,65" fill="#00ffff" /><polygon points="0,42 12,42 12,48 0,48" fill="#0000b0" /><polygon points="60,38 860,36 860,60 700,62 640,85 580,113 540,113 600,70 560,58 300,58 100,50" fill="#ffff00" /><polygon points="90,40 860,38 860,58 720,60 660,80 600,113 580,113 640,62 560,50 100,48" fill="#ffa000" /><polygon points="100,41 450,40 450,47 100,47" fill="#ff2020" /><polygon points="640,56 720,44 820,44 700,68" fill="#ff2020" /><polygon points="240,38 400,38 400,46 240,46" fill="#ffaaaa" /><polygon points="710,40 820,38 810,56 710,58" fill="#ffaaaa" /><polygon points="820,55 860,50 860,75 830,70" fill="#0060ff" /></svg>
<svg x="616" y="286" width="100" height="30" viewBox="0 0 904 271" preserveAspectRatio="none"><rect x="-50" y="-50" width="1004" height="371" fill="#00ff80"/><polygon points="0,158 904,158 904,196 0,196" fill="#00ffff" /><polygon points="0,195 904,195 904,250 0,250" fill="#0060ff" /><polygon points="460,228 690,228 690,236 460,236" fill="#0000b0" /><polygon points="780,228 904,228 904,236 780,236" fill="#0000b0" /><polygon points="0,250 904,250 904,260 0,260" fill="#00ffff" /><polygon points="0,22 420,0 620,0 500,22 300,36 0,46" fill="#00ffff" /><polygon points="0,36 300,30 480,12 560,0 700,0 500,30 300,45 0,52" fill="#8cff00" /><polygon points="0,44 300,34 500,18 620,0 904,0 904,128 800,120 650,106 600,118 560,136 450,130 400,155 350,165 300,140 150,142 60,125 0,125" fill="#ffff00" /><polygon points="60,47 300,38 450,28 560,14 904,0 904,120 800,108 650,98 560,92 450,78 350,62 250,66 200,82 300,110 335,132 250,138 150,134 0,118 0,50" fill="#ff6000" /><polygon points="100,50 300,40 450,35 460,50 600,62 700,78 800,92 904,105 904,115 800,105 650,95 560,90 450,75 350,60 250,65 200,80 300,110 330,130 250,135 150,130 80,110 100,85" fill="#ff2020" /><polygon points="460,50 560,20 700,5 904,0 904,100 800,90 700,75 600,60 500,55" fill="#ffaaaa" /><polygon points="0,55 60,55 90,80 80,95 0,98" fill="#ffaaaa" /><polygon points="150,105 200,110 280,120 270,135 200,130 150,120" fill="#ffaaaa" /><polygon points="250,70 350,65 450,80 560,95 600,110 560,130 450,125 400,150 350,160 330,135 300,105 220,85" fill="#ffff00" /><polygon points="300,80 400,85 480,100 500,115 420,120 350,110" fill="#8cff00" /><polygon points="450,120 640,105 700,115 800,125 700,135 600,140 450,135" fill="#00ffff" /><polygon points="620,148 680,148 680,160 620,160" fill="#ffa000" /><polygon points="-40,-40 400,-40 300,12 100,25 -40,30" fill="#8000a8" stroke="#ffc800" stroke-width="15" paint-order="stroke" stroke-linejoin="round"/><polygon points="-40,-40 400,-40 300,12 100,25 -40,30" fill="#8000a8" stroke="#00e0e0" stroke-width="7" stroke-linejoin="round"/></svg>
</g>
<g fill="#000" shape-rendering="crispEdges">
<rect x="146.70" y="157" width="1" height="4.8" />
<rect x="146.70" y="468.2" width="1" height="4.8" />
<rect x="159.40" y="157" width="1" height="4.8" />
<rect x="159.40" y="468.2" width="1" height="4.8" />
<rect x="172.10" y="157" width="1" height="4.8" />
<rect x="172.10" y="468.2" width="1" height="4.8" />
<rect x="184.80" y="157" width="1" height="4.8" />
<rect x="184.80" y="468.2" width="1" height="4.8" />
<rect x="197.00" y="157" width="2" height="9.6" />
<rect x="197.00" y="463.4" width="2" height="9.6" />
<rect x="210.20" y="157" width="1" height="4.8" />
<rect x="210.20" y="468.2" width="1" height="4.8" />
<rect x="222.90" y="157" width="1" height="4.8" />
<rect x="222.90" y="468.2" width="1" height="4.8" />
<rect x="235.60" y="157" width="1" height="4.8" />
<rect x="235.60" y="468.2" width="1" height="4.8" />
<rect x="248.30" y="157" width="1" height="4.8" />
<rect x="248.30" y="468.2" width="1" height="4.8" />
<rect x="260.50" y="157" width="2" height="9.6" />
<rect x="260.50" y="463.4" width="2" height="9.6" />
<rect x="273.70" y="157" width="1" height="4.8" />
<rect x="273.70" y="468.2" width="1" height="4.8" />
<rect x="286.40" y="157" width="1" height="4.8" />
<rect x="286.40" y="468.2" width="1" height="4.8" />
<rect x="299.10" y="157" width="1" height="4.8" />
<rect x="299.10" y="468.2" width="1" height="4.8" />
<rect x="311.80" y="157" width="1" height="4.8" />
<rect x="311.80" y="468.2" width="1" height="4.8" />
<rect x="324.00" y="157" width="2" height="9.6" />
<rect x="324.00" y="463.4" width="2" height="9.6" />
<rect x="337.20" y="157" width="1" height="4.8" />
<rect x="337.20" y="468.2" width="1" height="4.8" />
<rect x="349.90" y="157" width="1" height="4.8" />
<rect x="349.90" y="468.2" width="1" height="4.8" />
<rect x="362.60" y="157" width="1" height="4.8" />
<rect x="362.60" y="468.2" width="1" height="4.8" />
<rect x="375.30" y="157" width="1" height="4.8" />
<rect x="375.30" y="468.2" width="1" height="4.8" />
<rect x="387.50" y="157" width="2" height="9.6" />
<rect x="387.50" y="463.4" width="2" height="9.6" />
<rect x="400.70" y="157" width="1" height="4.8" />
<rect x="400.70" y="468.2" width="1" height="4.8" />
<rect x="413.40" y="157" width="1" height="4.8" />
<rect x="413.40" y="468.2" width="1" height="4.8" />
<rect x="426.10" y="157" width="1" height="4.8" />
<rect x="426.10" y="468.2" width="1" height="4.8" />
<rect x="438.80" y="157" width="1" height="4.8" />
<rect x="438.80" y="468.2" width="1" height="4.8" />
<rect x="451.00" y="157" width="2" height="9.6" />
<rect x="451.00" y="463.4" width="2" height="9.6" />
<rect x="464.20" y="157" width="1" height="4.8" />
<rect x="464.20" y="468.2" width="1" height="4.8" />
<rect x="476.90" y="157" width="1" height="4.8" />
<rect x="476.90" y="468.2" width="1" height="4.8" />
<rect x="489.60" y="157" width="1" height="4.8" />
<rect x="489.60" y="468.2" width="1" height="4.8" />
<rect x="502.30" y="157" width="1" height="4.8" />
<rect x="502.30" y="468.2" width="1" height="4.8" />
<rect x="514.50" y="157" width="2" height="9.6" />
<rect x="514.50" y="463.4" width="2" height="9.6" />
<rect x="527.70" y="157" width="1" height="4.8" />
<rect x="527.70" y="468.2" width="1" height="4.8" />
<rect x="540.40" y="157" width="1" height="4.8" />
<rect x="540.40" y="468.2" width="1" height="4.8" />
<rect x="553.10" y="157" width="1" height="4.8" />
<rect x="553.10" y="468.2" width="1" height="4.8" />
<rect x="565.80" y="157" width="1" height="4.8" />
<rect x="565.80" y="468.2" width="1" height="4.8" />
<rect x="578.00" y="157" width="2" height="9.6" />
<rect x="578.00" y="463.4" width="2" height="9.6" />
<rect x="591.20" y="157" width="1" height="4.8" />
<rect x="591.20" y="468.2" width="1" height="4.8" />
<rect x="603.90" y="157" width="1" height="4.8" />
<rect x="603.90" y="468.2" width="1" height="4.8" />
<rect x="616.60" y="157" width="1" height="4.8" />
<rect x="616.60" y="468.2" width="1" height="4.8" />
<rect x="629.30" y="157" width="1" height="4.8" />
<rect x="629.30" y="468.2" width="1" height="4.8" />
<rect x="641.50" y="157" width="2" height="9.6" />
<rect x="641.50" y="463.4" width="2" height="9.6" />
<rect x="654.70" y="157" width="1" height="4.8" />
<rect x="654.70" y="468.2" width="1" height="4.8" />
<rect x="667.40" y="157" width="1" height="4.8" />
<rect x="667.40" y="468.2" width="1" height="4.8" />
<rect x="680.10" y="157" width="1" height="4.8" />
<rect x="680.10" y="468.2" width="1" height="4.8" />
<rect x="692.80" y="157" width="1" height="4.8" />
<rect x="692.80" y="468.2" width="1" height="4.8" />
<rect x="705.00" y="157" width="2" height="9.6" />
<rect x="705.00" y="463.4" width="2" height="9.6" />
<rect x="718.20" y="157" width="1" height="4.8" />
<rect x="718.20" y="468.2" width="1" height="4.8" />
<rect x="730.90" y="157" width="1" height="4.8" />
<rect x="730.90" y="468.2" width="1" height="4.8" />
<rect x="743.60" y="157" width="1" height="4.8" />
<rect x="743.60" y="468.2" width="1" height="4.8" />
<rect x="756.30" y="157" width="1" height="4.8" />
<rect x="756.30" y="468.2" width="1" height="4.8" />
<rect x="136" y="453.93" width="4.8" height="1" />
<rect x="763.2" y="453.93" width="4.8" height="1" />
<rect x="136" y="434.05" width="4.8" height="1" />
<rect x="763.2" y="434.05" width="4.8" height="1" />
<rect x="136" y="414.18" width="4.8" height="1" />
<rect x="763.2" y="414.18" width="4.8" height="1" />
<rect x="136" y="393.80" width="9.6" height="2" />
<rect x="758.4" y="393.80" width="9.6" height="2" />
<rect x="136" y="374.43" width="4.8" height="1" />
<rect x="763.2" y="374.43" width="4.8" height="1" />
<rect x="136" y="354.55" width="4.8" height="1" />
<rect x="763.2" y="354.55" width="4.8" height="1" />
<rect x="136" y="334.68" width="4.8" height="1" />
<rect x="763.2" y="334.68" width="4.8" height="1" />
<rect x="136" y="314.30" width="9.6" height="2" />
<rect x="758.4" y="314.30" width="9.6" height="2" />
<rect x="136" y="294.93" width="4.8" height="1" />
<rect x="763.2" y="294.93" width="4.8" height="1" />
<rect x="136" y="275.05" width="4.8" height="1" />
<rect x="763.2" y="275.05" width="4.8" height="1" />
<rect x="136" y="255.18" width="4.8" height="1" />
<rect x="763.2" y="255.18" width="4.8" height="1" />
<rect x="136" y="234.80" width="9.6" height="2" />
<rect x="758.4" y="234.80" width="9.6" height="2" />
<rect x="136" y="215.43" width="4.8" height="1" />
<rect x="763.2" y="215.43" width="4.8" height="1" />
<rect x="136" y="195.55" width="4.8" height="1" />
<rect x="763.2" y="195.55" width="4.8" height="1" />
<rect x="136" y="175.68" width="4.8" height="1" />
<rect x="763.2" y="175.68" width="4.8" height="1" />
</g>
<rect x="136" y="157" width="632" height="316" fill="none" stroke="#000" stroke-width="2" shape-rendering="crispEdges"/>
<g shape-rendering="crispEdges">
<rect x="783.9" y="246.70" width="18" height="22.65" fill="#ff2020" stroke="#000" stroke-width="1.9"/>
<rect x="783.9" y="269.35" width="18" height="22.65" fill="#ff6000" stroke="#000" stroke-width="1.9"/>
<rect x="783.9" y="292.00" width="18" height="22.65" fill="#ffa000" stroke="#000" stroke-width="1.9"/>
<rect x="783.9" y="314.65" width="18" height="22.65" fill="#ffff00" stroke="#000" stroke-width="1.9"/>
<rect x="783.9" y="337.30" width="18" height="22.65" fill="#8cff00" stroke="#000" stroke-width="1.9"/>
<rect x="783.9" y="359.95" width="18" height="22.65" fill="#00ff80" stroke="#000" stroke-width="1.9"/>
<rect x="783.9" y="382.60" width="18" height="22.65" fill="#00ffff" stroke="#000" stroke-width="1.9"/>
<rect x="783.9" y="405.25" width="18" height="22.65" fill="#0060ff" stroke="#000" stroke-width="1.9"/>
<rect x="783.9" y="427.90" width="18" height="22.65" fill="#0000b0" stroke="#000" stroke-width="1.9"/>
<rect x="783.9" y="450.55" width="18" height="22.65" fill="#3800a8" stroke="#000" stroke-width="1.9"/>
<polygon points="783.9,246.7 792.9,207.2 801.9,246.7" fill="#ffaaaa" stroke="#000" stroke-width="1.9" stroke-linejoin="miter"/>
<polygon points="783.9,473.2 792.9,514.0 801.9,473.2" fill="#8000a8" stroke="#000" stroke-width="1.9" stroke-linejoin="miter"/>
</g>
<g shape-rendering="crispEdges">
<path d="M226.03 99.13 L226.03 118.43 M226.03 101.89 L227.90 100.05 L229.76 99.13 L232.56 99.13 L234.43 100.05 L236.30 101.89 L237.23 104.65 L237.23 106.49 L236.30 109.24 L234.43 111.08 L232.56 112.00 L229.76 112.00 L227.90 111.08 L226.03 109.24 M247.49 99.13 L245.63 100.05 L243.76 101.89 L242.83 104.65 L242.83 106.49 L243.76 109.24 L245.63 111.08 L247.49 112.00 L250.29 112.00 L252.16 111.08 L254.02 109.24 L254.96 106.49 L254.96 104.65 L254.02 101.89 L252.16 100.05 L250.29 99.13 L247.49 99.13 M262.42 92.70 L262.42 108.32 L263.35 111.08 L265.22 112.00 L267.08 112.00 M259.62 99.13 L266.15 99.13 M271.75 104.65 L282.95 104.65 L282.95 102.81 L282.01 100.97 L281.08 100.05 L279.21 99.13 L276.41 99.13 L274.55 100.05 L272.68 101.89 L271.75 104.65 L271.75 106.49 L272.68 109.24 L274.55 111.08 L276.41 112.00 L279.21 112.00 L281.08 111.08 L282.95 109.24 M289.48 99.13 L289.48 112.00 M289.48 102.81 L292.28 100.05 L294.14 99.13 L296.94 99.13 L298.81 100.05 L299.74 102.81 L299.74 112.00 M308.14 92.70 L308.14 108.32 L309.07 111.08 L310.94 112.00 L312.80 112.00 M305.34 99.13 L311.87 99.13 M317.47 92.70 L318.40 93.62 L319.33 92.70 L318.40 91.78 L317.47 92.70 M318.40 99.13 L318.40 112.00 M336.13 99.13 L336.13 112.00 M336.13 101.89 L334.26 100.05 L332.39 99.13 L329.60 99.13 L327.73 100.05 L325.86 101.89 L324.93 104.65 L324.93 106.49 L325.86 109.24 L327.73 111.08 L329.60 112.00 L332.39 112.00 L334.26 111.08 L336.13 109.24 M343.59 92.70 L343.59 112.00 M366.92 92.70 L366.92 108.32 L367.85 111.08 L369.71 112.00 L371.58 112.00 M364.12 99.13 L370.65 99.13 M376.25 104.65 L387.44 104.65 L387.44 102.81 L386.51 100.97 L385.58 100.05 L383.71 99.13 L380.91 99.13 L379.04 100.05 L377.18 101.89 L376.25 104.65 L376.25 106.49 L377.18 109.24 L379.04 111.08 L380.91 112.00 L383.71 112.00 L385.58 111.08 L387.44 109.24 M393.97 99.13 L393.97 112.00 M393.97 102.81 L396.77 100.05 L398.64 99.13 L401.44 99.13 L403.30 100.05 L404.24 102.81 L404.24 112.00 M404.24 102.81 L407.03 100.05 L408.90 99.13 L411.70 99.13 L413.56 100.05 L414.50 102.81 L414.50 112.00 M421.96 99.13 L421.96 118.43 M421.96 101.89 L423.83 100.05 L425.69 99.13 L428.49 99.13 L430.36 100.05 L432.23 101.89 L433.16 104.65 L433.16 106.49 L432.23 109.24 L430.36 111.08 L428.49 112.00 L425.69 112.00 L423.83 111.08 L421.96 109.24 M438.76 104.65 L449.95 104.65 L449.95 102.81 L449.02 100.97 L448.09 100.05 L446.22 99.13 L443.42 99.13 L441.56 100.05 L439.69 101.89 L438.76 104.65 L438.76 106.49 L439.69 109.24 L441.56 111.08 L443.42 112.00 L446.22 112.00 L448.09 111.08 L449.95 109.24 M456.48 99.13 L456.48 112.00 M456.48 104.65 L457.42 101.89 L459.28 100.05 L461.15 99.13 L463.95 99.13 M478.88 99.13 L478.88 112.00 M478.88 101.89 L477.01 100.05 L475.14 99.13 L472.34 99.13 L470.48 100.05 L468.61 101.89 L467.68 104.65 L467.68 106.49 L468.61 109.24 L470.48 111.08 L472.34 112.00 L475.14 112.00 L477.01 111.08 L478.88 109.24 M487.27 92.70 L487.27 108.32 L488.20 111.08 L490.07 112.00 L491.94 112.00 M484.47 99.13 L491.00 99.13 M497.54 99.13 L497.54 108.32 L498.47 111.08 L500.33 112.00 L503.13 112.00 L505.00 111.08 L507.80 108.32 M507.80 99.13 L507.80 112.00 M515.26 99.13 L515.26 112.00 M515.26 104.65 L516.19 101.89 L518.06 100.05 L519.93 99.13 L522.73 99.13 M526.46 104.65 L537.65 104.65 L537.65 102.81 L536.72 100.97 L535.79 100.05 L533.92 99.13 L531.12 99.13 L529.26 100.05 L527.39 101.89 L526.46 104.65 L526.46 106.49 L527.39 109.24 L529.26 111.08 L531.12 112.00 L533.92 112.00 L535.79 111.08 L537.65 109.24 M569.38 92.70 L569.38 112.00 M569.38 101.89 L567.51 100.05 L565.64 99.13 L562.85 99.13 L560.98 100.05 L559.11 101.89 L558.18 104.65 L558.18 106.49 L559.11 109.24 L560.98 111.08 L562.85 112.00 L565.64 112.00 L567.51 111.08 L569.38 109.24 M575.91 104.65 L587.10 104.65 L587.10 102.81 L586.17 100.97 L585.24 100.05 L583.37 99.13 L580.57 99.13 L578.71 100.05 L576.84 101.89 L575.91 104.65 L575.91 106.49 L576.84 109.24 L578.71 111.08 L580.57 112.00 L583.37 112.00 L585.24 111.08 L587.10 109.24 M591.77 99.13 L597.37 112.00 M602.96 99.13 L597.37 112.00 M607.63 92.70 L608.56 93.62 L609.49 92.70 L608.56 91.78 L607.63 92.70 M608.56 99.13 L608.56 112.00 M626.29 99.13 L626.29 112.00 M626.29 101.89 L624.42 100.05 L622.56 99.13 L619.76 99.13 L617.89 100.05 L616.03 101.89 L615.09 104.65 L615.09 106.49 L616.03 109.24 L617.89 111.08 L619.76 112.00 L622.56 112.00 L624.42 111.08 L626.29 109.24 M634.69 92.70 L634.69 108.32 L635.62 111.08 L637.49 112.00 L639.35 112.00 M631.89 99.13 L638.42 99.13 M644.02 92.70 L644.95 93.62 L645.88 92.70 L644.95 91.78 L644.02 92.70 M644.95 99.13 L644.95 112.00 M656.15 99.13 L654.28 100.05 L652.41 101.89 L651.48 104.65 L651.48 106.49 L652.41 109.24 L654.28 111.08 L656.15 112.00 L658.94 112.00 L660.81 111.08 L662.68 109.24 L663.61 106.49 L663.61 104.65 L662.68 101.89 L660.81 100.05 L658.94 99.13 L656.15 99.13 M670.14 99.13 L670.14 112.00 M670.14 102.81 L672.94 100.05 L674.81 99.13 L677.60 99.13 L679.47 100.05 L680.40 102.81 L680.40 112.00" fill="none" stroke="#000" stroke-width="1.6" stroke-linecap="square" stroke-linejoin="miter" />
<path d="M51.69 123.14 L50.20 123.80 L49.10 125.34 L48.83 127.10 L48.83 131.94 L49.10 133.70 L50.20 135.24 L51.69 136.12 M57.02 126.66 L63.62 132.82 M63.62 126.66 L57.02 132.82 M70.00 126.22 L71.10 125.78 L72.75 124.46 L72.75 133.70 M79.90 124.46 L79.90 133.70 M79.90 124.46 L87.05 124.46 M79.90 128.86 L84.30 128.86 M79.90 133.70 L87.05 133.70 M95.30 124.46 L89.80 130.62 L98.05 130.62 M95.30 124.46 L95.30 133.70 M110.15 127.54 L110.15 133.70 M110.15 129.30 L111.80 127.98 L112.90 127.54 L114.55 127.54 L115.65 127.98 L116.20 129.30 L116.20 133.70 M116.20 129.30 L117.85 127.98 L118.95 127.54 L120.60 127.54 L121.70 127.98 L122.25 129.30 L122.25 133.70 M127.48 123.14 L128.96 123.80 L130.06 125.34 L130.34 127.10 L130.34 131.94 L130.06 133.70 L128.96 135.24 L127.48 136.12" fill="none" stroke="#000" stroke-width="2" stroke-linecap="square" stroke-linejoin="miter" />
<path d="M693.98 505.74 L692.50 506.40 L691.40 507.94 L691.12 509.70 L691.12 514.54 L691.40 516.30 L692.50 517.84 L693.98 518.72 M699.32 509.26 L705.92 515.42 M705.92 509.26 L699.32 515.42 M712.30 508.82 L713.40 508.38 L715.05 507.06 L715.05 516.30 M722.20 507.06 L722.20 516.30 M722.20 507.06 L729.35 507.06 M722.20 511.46 L726.60 511.46 M722.20 516.30 L729.35 516.30 M737.60 507.06 L732.10 513.22 L740.35 513.22 M737.60 507.06 L737.60 516.30 M752.45 510.14 L752.45 516.30 M752.45 511.90 L754.10 510.58 L755.20 510.14 L756.85 510.14 L757.95 510.58 L758.50 511.90 L758.50 516.30 M758.50 511.90 L760.15 510.58 L761.25 510.14 L762.90 510.14 L764.00 510.58 L764.55 511.90 L764.55 516.30 M769.77 505.74 L771.26 506.40 L772.36 507.94 L772.63 509.70 L772.63 514.54 L772.36 516.30 L771.26 517.84 L769.77 518.72" fill="none" stroke="#000" stroke-width="2" stroke-linecap="square" stroke-linejoin="miter" />
<path d="M195.76 486.05 L196.88 485.60 L198.56 484.25 L198.56 493.70" fill="none" stroke="#000" stroke-width="2" stroke-linecap="square" stroke-linejoin="miter" />
<path d="M258.14 486.50 L258.14 486.05 L258.70 485.15 L259.26 484.70 L260.38 484.25 L262.62 484.25 L263.74 484.70 L264.30 485.15 L264.86 486.05 L264.86 486.95 L264.30 487.85 L263.18 489.20 L257.58 493.70 L265.42 493.70" fill="none" stroke="#000" stroke-width="2" stroke-linecap="square" stroke-linejoin="miter" />
<path d="M322.20 484.25 L328.36 484.25 L325.00 487.85 L326.68 487.85 L327.80 488.30 L328.36 488.75 L328.92 490.10 L328.92 491.00 L328.36 492.35 L327.24 493.25 L325.56 493.70 L323.88 493.70 L322.20 493.25 L321.64 492.80 L321.08 491.90" fill="none" stroke="#000" stroke-width="2" stroke-linecap="square" stroke-linejoin="miter" />
<path d="M390.18 484.25 L384.58 490.55 L392.98 490.55 M390.18 484.25 L390.18 493.70" fill="none" stroke="#000" stroke-width="2" stroke-linecap="square" stroke-linejoin="miter" />
<path d="M454.80 484.25 L449.20 484.25 L448.64 488.30 L449.20 487.85 L450.88 487.40 L452.56 487.40 L454.24 487.85 L455.36 488.75 L455.92 490.10 L455.92 491.00 L455.36 492.35 L454.24 493.25 L452.56 493.70 L450.88 493.70 L449.20 493.25 L448.64 492.80 L448.08 491.90" fill="none" stroke="#000" stroke-width="2" stroke-linecap="square" stroke-linejoin="miter" />
<path d="M518.86 485.60 L518.30 484.70 L516.62 484.25 L515.50 484.25 L513.82 484.70 L512.70 486.05 L512.14 488.30 L512.14 490.55 L512.70 492.35 L513.82 493.25 L515.50 493.70 L516.06 493.70 L517.74 493.25 L518.86 492.35 L519.42 491.00 L519.42 490.55 L518.86 489.20 L517.74 488.30 L516.06 487.85 L515.50 487.85 L513.82 488.30 L512.70 489.20 L512.14 490.55" fill="none" stroke="#000" stroke-width="2" stroke-linecap="square" stroke-linejoin="miter" />
<path d="M582.92 484.25 L577.32 493.70 M575.08 484.25 L582.92 484.25" fill="none" stroke="#000" stroke-width="2" stroke-linecap="square" stroke-linejoin="miter" />
<path d="M641.38 484.25 L639.70 484.70 L639.14 485.60 L639.14 486.50 L639.70 487.40 L640.82 487.85 L643.06 488.30 L644.74 488.75 L645.86 489.65 L646.42 490.55 L646.42 491.90 L645.86 492.80 L645.30 493.25 L643.62 493.70 L641.38 493.70 L639.70 493.25 L639.14 492.80 L638.58 491.90 L638.58 490.55 L639.14 489.65 L640.26 488.75 L641.94 488.30 L644.18 487.85 L645.30 487.40 L645.86 486.50 L645.86 485.60 L645.30 484.70 L643.62 484.25 L641.38 484.25" fill="none" stroke="#000" stroke-width="2" stroke-linecap="square" stroke-linejoin="miter" />
<path d="M709.36 487.40 L708.80 488.75 L707.68 489.65 L706.00 490.10 L705.44 490.10 L703.76 489.65 L702.64 488.75 L702.08 487.40 L702.08 486.95 L702.64 485.60 L703.76 484.70 L705.44 484.25 L706.00 484.25 L707.68 484.70 L708.80 485.60 L709.36 487.40 L709.36 489.65 L708.80 491.90 L707.68 493.25 L706.00 493.70 L704.88 493.70 L703.20 493.25 L702.64 492.35" fill="none" stroke="#000" stroke-width="2" stroke-linecap="square" stroke-linejoin="miter" />
<path d="M117.64 391.00 L117.64 390.55 L118.20 389.65 L118.76 389.20 L119.88 388.75 L122.12 388.75 L123.24 389.20 L123.80 389.65 L124.36 390.55 L124.36 391.45 L123.80 392.35 L122.68 393.70 L117.08 398.20 L124.92 398.20" fill="none" stroke="#000" stroke-width="2" stroke-linecap="square" stroke-linejoin="miter" />
<path d="M122.68 309.25 L117.08 315.55 L125.48 315.55 M122.68 309.25 L122.68 318.70" fill="none" stroke="#000" stroke-width="2" stroke-linecap="square" stroke-linejoin="miter" />
<path d="M124.36 231.10 L123.80 230.20 L122.12 229.75 L121.00 229.75 L119.32 230.20 L118.20 231.55 L117.64 233.80 L117.64 236.05 L118.20 237.85 L119.32 238.75 L121.00 239.20 L121.56 239.20 L123.24 238.75 L124.36 237.85 L124.92 236.50 L124.92 236.05 L124.36 234.70 L123.24 233.80 L121.56 233.35 L121.00 233.35 L119.32 233.80 L118.20 234.70 L117.64 236.05" fill="none" stroke="#000" stroke-width="2" stroke-linecap="square" stroke-linejoin="miter" />
<path d="M815.02 264.80 L813.45 265.25 L812.40 266.60 L811.88 268.85 L811.88 270.20 L812.40 272.45 L813.45 273.80 L815.02 274.25 L816.07 274.25 L817.65 273.80 L818.70 272.45 L819.22 270.20 L819.22 268.85 L818.70 266.60 L817.65 265.25 L816.07 264.80 L815.02 264.80 M823.42 273.35 L822.90 273.80 L823.42 274.25 L823.95 273.80 L823.42 273.35 M828.67 264.80 L834.45 264.80 L831.30 268.40 L832.88 268.40 L833.92 268.85 L834.45 269.30 L834.97 270.65 L834.97 271.55 L834.45 272.90 L833.40 273.80 L831.82 274.25 L830.25 274.25 L828.67 273.80 L828.15 273.35 L827.62 272.45 M838.65 267.05 L838.65 266.60 L839.17 265.70 L839.70 265.25 L840.75 264.80 L842.85 264.80 L843.90 265.25 L844.42 265.70 L844.95 266.60 L844.95 267.50 L844.42 268.40 L843.38 269.75 L838.12 274.25 L845.47 274.25" fill="none" stroke="#000" stroke-width="2" stroke-linecap="square" stroke-linejoin="miter" />
<path d="M815.02 310.10 L813.45 310.55 L812.40 311.90 L811.88 314.15 L811.88 315.50 L812.40 317.75 L813.45 319.10 L815.02 319.55 L816.07 319.55 L817.65 319.10 L818.70 317.75 L819.22 315.50 L819.22 314.15 L818.70 311.90 L817.65 310.55 L816.07 310.10 L815.02 310.10 M823.42 318.65 L822.90 319.10 L823.42 319.55 L823.95 319.10 L823.42 318.65 M829.20 311.90 L830.25 311.45 L831.82 310.10 L831.82 319.55 M844.95 311.45 L844.42 310.55 L842.85 310.10 L841.80 310.10 L840.22 310.55 L839.17 311.90 L838.65 314.15 L838.65 316.40 L839.17 318.20 L840.22 319.10 L841.80 319.55 L842.32 319.55 L843.90 319.10 L844.95 318.20 L845.47 316.85 L845.47 316.40 L844.95 315.05 L843.90 314.15 L842.32 313.70 L841.80 313.70 L840.22 314.15 L839.17 315.05 L838.65 316.40" fill="none" stroke="#000" stroke-width="2" stroke-linecap="square" stroke-linejoin="miter" />
<path d="M815.02 355.40 L813.45 355.85 L812.40 357.20 L811.88 359.45 L811.88 360.80 L812.40 363.05 L813.45 364.40 L815.02 364.85 L816.07 364.85 L817.65 364.40 L818.70 363.05 L819.22 360.80 L819.22 359.45 L818.70 357.20 L817.65 355.85 L816.07 355.40 L815.02 355.40" fill="none" stroke="#000" stroke-width="2" stroke-linecap="square" stroke-linejoin="miter" />
<path d="M811.88 406.10 L820.27 406.10 M827.62 400.70 L826.05 401.15 L825.00 402.50 L824.48 404.75 L824.48 406.10 L825.00 408.35 L826.05 409.70 L827.62 410.15 L828.67 410.15 L830.25 409.70 L831.30 408.35 L831.82 406.10 L831.82 404.75 L831.30 402.50 L830.25 401.15 L828.67 400.70 L827.62 400.70 M836.02 409.25 L835.50 409.70 L836.02 410.15 L836.55 409.70 L836.02 409.25 M841.80 402.50 L842.85 402.05 L844.42 400.70 L844.42 410.15 M857.55 402.05 L857.02 401.15 L855.45 400.70 L854.40 400.70 L852.82 401.15 L851.77 402.50 L851.25 404.75 L851.25 407.00 L851.77 408.80 L852.82 409.70 L854.40 410.15 L854.92 410.15 L856.50 409.70 L857.55 408.80 L858.07 407.45 L858.07 407.00 L857.55 405.65 L856.50 404.75 L854.92 404.30 L854.40 404.30 L852.82 404.75 L851.77 405.65 L851.25 407.00" fill="none" stroke="#000" stroke-width="2" stroke-linecap="square" stroke-linejoin="miter" />
<path d="M811.88 451.40 L820.27 451.40 M827.62 446.00 L826.05 446.45 L825.00 447.80 L824.48 450.05 L824.48 451.40 L825.00 453.65 L826.05 455.00 L827.62 455.45 L828.67 455.45 L830.25 455.00 L831.30 453.65 L831.82 451.40 L831.82 450.05 L831.30 447.80 L830.25 446.45 L828.67 446.00 L827.62 446.00 M836.02 454.55 L835.50 455.00 L836.02 455.45 L836.55 455.00 L836.02 454.55 M841.27 446.00 L847.05 446.00 L843.90 449.60 L845.48 449.60 L846.52 450.05 L847.05 450.50 L847.57 451.85 L847.57 452.75 L847.05 454.10 L846.00 455.00 L844.42 455.45 L842.85 455.45 L841.27 455.00 L840.75 454.55 L840.23 453.65 M851.25 448.25 L851.25 447.80 L851.77 446.90 L852.30 446.45 L853.35 446.00 L855.45 446.00 L856.50 446.45 L857.02 446.90 L857.55 447.80 L857.55 448.70 L857.02 449.60 L855.98 450.95 L850.73 455.45 L858.07 455.45" fill="none" stroke="#000" stroke-width="2" stroke-linecap="square" stroke-linejoin="miter" />
<path d="M780.26 158.00 L780.26 166.50 L780.79 168.00 L781.86 168.50 L782.92 168.50 M778.66 161.50 L782.39 161.50 M786.11 162.50 L795.69 162.50 M786.11 165.50 L795.69 165.50 M804.73 158.00 L799.41 165.00 L807.39 165.00 M804.73 158.00 L804.73 168.50 M811.12 167.50 L810.58 168.00 L811.12 168.50 L811.65 168.00 L811.12 167.50 M821.76 158.00 L816.44 158.00 L815.90 162.50 L816.44 162.00 L818.03 161.50 L819.63 161.50 L821.22 162.00 L822.29 163.00 L822.82 164.50 L822.82 165.50 L822.29 167.00 L821.22 168.00 L819.63 168.50 L818.03 168.50 L816.44 168.00 L815.90 167.50 L815.37 166.50 M827.61 160.00 L828.67 159.50 L830.27 158.00 L830.27 168.50 M839.31 158.00 L837.72 158.50 L837.18 159.50 L837.18 160.50 L837.72 161.50 L838.78 162.00 L840.91 162.50 L842.50 163.00 L843.57 164.00 L844.10 165.00 L844.10 166.50 L843.57 167.50 L843.04 168.00 L841.44 168.50 L839.31 168.50 L837.72 168.00 L837.18 167.50 L836.65 166.50 L836.65 165.00 L837.18 164.00 L838.25 163.00 L839.84 162.50 L841.97 162.00 L843.04 161.50 L843.57 160.50 L843.57 159.50 L843.04 158.50 L841.44 158.00 L839.31 158.00 M847.29 164.50 L853.68 164.50 L853.68 163.50 L853.14 162.50 L852.61 162.00 L851.55 161.50 L849.95 161.50 L848.89 162.00 L847.82 163.00 L847.29 164.50 L847.29 165.50 L847.82 167.00 L848.89 168.00 L849.95 168.50 L851.55 168.50 L852.61 168.00 L853.68 167.00 M861.39 159.50 L861.39 168.50 M856.60 164.00 L866.18 164.00 M872.30 158.00 L870.70 158.50 L869.64 160.00 L869.10 162.50 L869.10 164.00 L869.64 166.50 L870.70 168.00 L872.30 168.50 L873.36 168.50 L874.96 168.00 L876.02 166.50 L876.55 164.00 L876.55 162.50 L876.02 160.00 L874.96 158.50 L873.36 158.00 L872.30 158.00 M886.66 159.50 L886.13 158.50 L884.53 158.00 L883.47 158.00 L881.87 158.50 L880.81 160.00 L880.28 162.50 L880.28 165.00 L880.81 167.00 L881.87 168.00 L883.47 168.50 L884.00 168.50 L885.60 168.00 L886.66 167.00 L887.19 165.50 L887.19 165.00 L886.66 163.50 L885.60 162.50 L884.00 162.00 L883.47 162.00 L881.87 162.50 L880.81 163.50 L880.28 165.00 M903.15 163.00 L902.62 162.00 L901.02 161.50 L899.43 161.50 L897.83 162.00 L897.30 163.00 L897.83 164.00 L898.90 164.50 L901.56 165.00 L902.62 165.50 L903.15 166.50 L903.15 167.00 L902.62 168.00 L901.02 168.50 L899.43 168.50 L897.83 168.00 L897.30 167.00" fill="none" stroke="#000" stroke-width="1" stroke-linecap="square" stroke-linejoin="miter" />
<path d="M379.54 531.09 L390.02 546.00 M390.02 531.09 L379.54 546.00 M415.45 538.19 L413.95 536.77 L412.46 536.06 L410.21 536.06 L408.72 536.77 L407.22 538.19 L406.47 540.32 L406.47 541.74 L407.22 543.87 L408.72 545.29 L410.21 546.00 L412.46 546.00 L413.95 545.29 L415.45 543.87 M423.68 536.06 L422.18 536.77 L420.68 538.19 L419.94 540.32 L419.94 541.74 L420.68 543.87 L422.18 545.29 L423.68 546.00 L425.92 546.00 L427.42 545.29 L428.91 543.87 L429.66 541.74 L429.66 540.32 L428.91 538.19 L427.42 536.77 L425.92 536.06 L423.68 536.06 M437.89 536.06 L436.39 536.77 L434.90 538.19 L434.15 540.32 L434.15 541.74 L434.90 543.87 L436.39 545.29 L437.89 546.00 L440.13 546.00 L441.63 545.29 L443.12 543.87 L443.87 541.74 L443.87 540.32 L443.12 538.19 L441.63 536.77 L440.13 536.06 L437.89 536.06 M449.11 536.06 L449.11 546.00 M449.11 540.32 L449.86 538.19 L451.35 536.77 L452.85 536.06 L455.09 536.06 M467.06 531.09 L467.06 546.00 M467.06 538.19 L465.56 536.77 L464.07 536.06 L461.82 536.06 L460.33 536.77 L458.83 538.19 L458.08 540.32 L458.08 541.74 L458.83 543.87 L460.33 545.29 L461.82 546.00 L464.07 546.00 L465.56 545.29 L467.06 543.87 M472.30 531.09 L473.04 531.80 L473.79 531.09 L473.04 530.38 L472.30 531.09 M473.04 536.06 L473.04 546.00 M479.03 536.06 L479.03 546.00 M479.03 538.90 L481.27 536.77 L482.77 536.06 L485.01 536.06 L486.51 536.77 L487.26 538.90 L487.26 546.00 M501.47 536.06 L501.47 546.00 M501.47 538.19 L499.97 536.77 L498.48 536.06 L496.23 536.06 L494.74 536.77 L493.24 538.19 L492.49 540.32 L492.49 541.74 L493.24 543.87 L494.74 545.29 L496.23 546.00 L498.48 546.00 L499.97 545.29 L501.47 543.87 M508.20 531.09 L508.20 543.16 L508.95 545.29 L510.44 546.00 L511.94 546.00 M505.96 536.06 L511.19 536.06 M515.68 540.32 L524.66 540.32 L524.66 538.90 L523.91 537.48 L523.16 536.77 L521.66 536.06 L519.42 536.06 L517.92 536.77 L516.43 538.19 L515.68 540.32 L515.68 541.74 L516.43 543.87 L517.92 545.29 L519.42 546.00 L521.66 546.00 L523.16 545.29 L524.66 543.87" fill="none" stroke="#000" stroke-width="1.5" stroke-linecap="square" stroke-linejoin="miter" />
<path d="M12.72 -14.91 L2.24 0.00 M2.24 -14.91 L12.72 -14.91 M2.24 0.00 L12.72 0.00 M38.15 -7.81 L36.65 -9.23 L35.16 -9.94 L32.91 -9.94 L31.42 -9.23 L29.92 -7.81 L29.17 -5.68 L29.17 -4.26 L29.92 -2.13 L31.42 -0.71 L32.91 0.00 L35.16 0.00 L36.65 -0.71 L38.15 -2.13 M46.38 -9.94 L44.88 -9.23 L43.38 -7.81 L42.64 -5.68 L42.64 -4.26 L43.38 -2.13 L44.88 -0.71 L46.38 0.00 L48.62 0.00 L50.12 -0.71 L51.61 -2.13 L52.36 -4.26 L52.36 -5.68 L51.61 -7.81 L50.12 -9.23 L48.62 -9.94 L46.38 -9.94 M60.59 -9.94 L59.09 -9.23 L57.60 -7.81 L56.85 -5.68 L56.85 -4.26 L57.60 -2.13 L59.09 -0.71 L60.59 0.00 L62.83 0.00 L64.33 -0.71 L65.82 -2.13 L66.57 -4.26 L66.57 -5.68 L65.82 -7.81 L64.33 -9.23 L62.83 -9.94 L60.59 -9.94 M71.81 -9.94 L71.81 0.00 M71.81 -5.68 L72.56 -7.81 L74.05 -9.23 L75.55 -9.94 L77.79 -9.94 M89.76 -14.91 L89.76 0.00 M89.76 -7.81 L88.26 -9.23 L86.77 -9.94 L84.52 -9.94 L83.03 -9.23 L81.53 -7.81 L80.78 -5.68 L80.78 -4.26 L81.53 -2.13 L83.03 -0.71 L84.52 0.00 L86.77 0.00 L88.26 -0.71 L89.76 -2.13 M95.00 -14.91 L95.74 -14.20 L96.49 -14.91 L95.74 -15.62 L95.00 -14.91 M95.74 -9.94 L95.74 0.00 M101.73 -9.94 L101.73 0.00 M101.73 -7.10 L103.97 -9.23 L105.47 -9.94 L107.71 -9.94 L109.21 -9.23 L109.96 -7.10 L109.96 0.00 M124.17 -9.94 L124.17 0.00 M124.17 -7.81 L122.67 -9.23 L121.18 -9.94 L118.93 -9.94 L117.44 -9.23 L115.94 -7.81 L115.19 -5.68 L115.19 -4.26 L115.94 -2.13 L117.44 -0.71 L118.93 0.00 L121.18 0.00 L122.67 -0.71 L124.17 -2.13 M130.90 -14.91 L130.90 -2.84 L131.65 -0.71 L133.14 0.00 L134.64 0.00 M128.66 -9.94 L133.89 -9.94 M138.38 -5.68 L147.36 -5.68 L147.36 -7.10 L146.61 -8.52 L145.86 -9.23 L144.36 -9.94 L142.12 -9.94 L140.62 -9.23 L139.13 -7.81 L138.38 -5.68 L138.38 -4.26 L139.13 -2.13 L140.62 -0.71 L142.12 0.00 L144.36 0.00 L145.86 -0.71 L147.36 -2.13" fill="none" stroke="#000" stroke-width="1.5" stroke-linecap="square" stroke-linejoin="miter" transform="translate(98.35,389.5) rotate(-90)"/>
</g>
</svg>
</body></html>
